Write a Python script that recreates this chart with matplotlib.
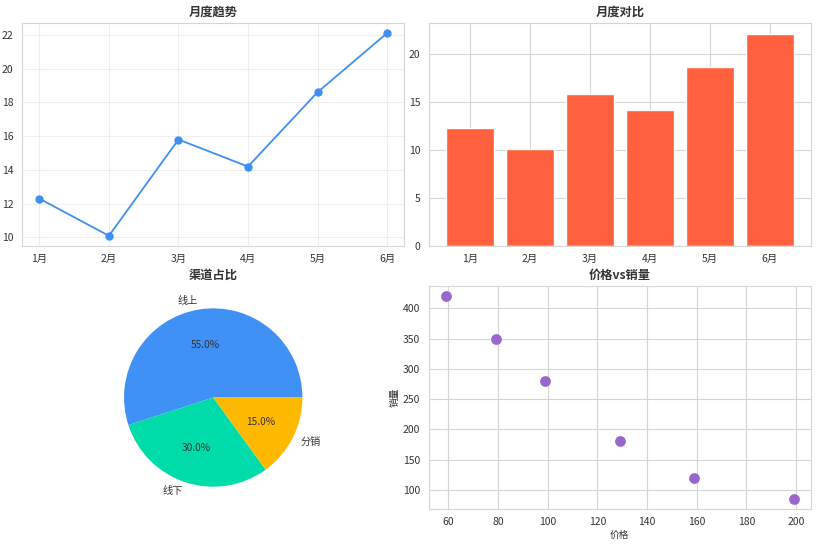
import matplotlib
matplotlib.use("Agg")
import matplotlib.pyplot as plt
import seaborn as sns

months = ["1月", "2月", "3月", "4月", "5月", "6月"]
sales = [12.3, 10.1, 15.8, 14.2, 18.6, 22.1]

channels = ["线上", "线下", "分销"]
shares = [55, 30, 15]

price = [59, 79, 99, 129, 159, 199]
volume = [420, 350, 280, 180, 120, 85]

sns.set_style("whitegrid")
plt.rcParams["font.family"] = ["Noto Sans CJK SC", "DejaVu Sans"]
plt.rcParams["axes.edgecolor"] = "#d5d5d5"
plt.rcParams["grid.color"] = "#d5d5d5"
plt.rcParams["xtick.color"] = "#333333"
plt.rcParams["ytick.color"] = "#333333"
plt.rcParams["xtick.labelsize"] = 7.5
plt.rcParams["ytick.labelsize"] = 7.5
plt.rcParams["xtick.major.pad"] = 2.5
plt.rcParams["ytick.major.pad"] = 2.5

title_kw = dict(fontsize=8.8, fontweight="bold", color="#333333", pad=5)

fig, axes = plt.subplots(2, 2, figsize=(8.22, 5.47), dpi=100)
ax1, ax2, ax3, ax4 = axes.ravel()

ax1.plot(months, sales, marker="o", color="#3F8FF2", linewidth=1.3, markersize=5)
ax1.set_title("月度趋势", **title_kw)
ax1.grid(True, alpha=0.4)

ax2.bar(months, sales, color="#FF613F")
ax2.set_title("月度对比", **title_kw)

ax3.pie(shares, labels=channels, autopct="%1.1f%%",
        colors=["#3F91F6", "#00DBAA", "#FFB900"],
        wedgeprops={"linewidth": 0},
        textprops={"fontsize": 7.3, "color": "#333333"})
ax3.set_title("渠道占比", **title_kw)

ax4.scatter(price, volume, color="#9966CC", s=60, linewidths=0)
ax4.set_title("价格vs销量", **title_kw)
ax4.set_xlabel("价格", fontsize=7, color="#333333", labelpad=2)
ax4.set_ylabel("销量", fontsize=7, color="#333333", labelpad=2)

fig.subplots_adjust(left=22 / 822, right=811 / 822, top=1 - 23 / 547,
                    bottom=1 - 509 / 547, wspace=0.063, hspace=0.18)
fig.savefig("out.png", dpi=100)
